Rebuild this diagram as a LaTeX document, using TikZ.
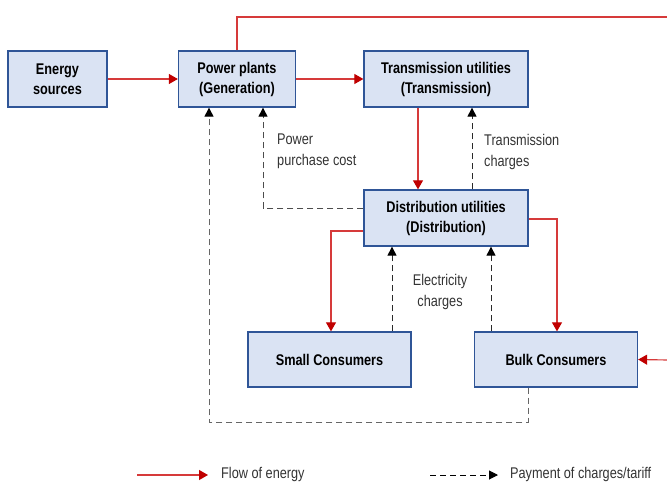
\documentclass[tikz,border=0pt]{standalone}
\usepackage{fontspec}
\setmainfont[FakeStretch=0.82]{Liberation Sans}
\usetikzlibrary{arrows.meta}
\definecolor{boxfill}{HTML}{DAE3F3}
\definecolor{boxline}{HTML}{2F5597}
\definecolor{flowred}{HTML}{C00000}
\definecolor{flowline}{HTML}{D63A3A}
\definecolor{paygray}{HTML}{2A2A2A}
\tikzset{
  ebox/.style={draw=boxline, fill=boxfill, line width=1.3pt, align=center,
    font=\fontsize{15.5}{20}\selectfont\bfseries, inner sep=0pt},
  flowbase/.style={draw=flowline, line width=1.15pt},
  flow/.style={flowbase, -{Triangle[length=9pt,width=10pt,color=flowred]}},
  pay/.style={draw=paygray, line width=1pt, dash pattern=on 6pt off 4pt,
    -{Triangle[length=9pt,width=9pt,color=black]}},
  lbl/.style={font=\fontsize{15.5}{21}\selectfont, align=left, inner sep=0pt, text=black!80},
}
\begin{document}
\begin{tikzpicture}[x=1pt,y=-1pt]
\useasboundingbox (0,0) rectangle (667,482);
% boxes
\node[ebox, minimum width=99pt, minimum height=56pt] (es) at (57.5,79) {Energy\\sources};
\node[ebox, minimum width=117pt, minimum height=56pt] (pp) at (237,79) {Power plants\\(Generation)};
\node[ebox, minimum width=164pt, minimum height=56pt] (tu) at (446,79) {Transmission utilities\\(Transmission)};
\node[ebox, minimum width=164pt, minimum height=56pt] (du) at (446,218) {Distribution utilities\\(Distribution)};
\node[ebox, minimum width=163pt, minimum height=55pt] (sc) at (329.5,359.5) {Small Consumers};
\node[ebox, minimum width=163pt, minimum height=55pt] (bc) at (556,359.5) {Bulk Consumers};
% off-page coordinates
\coordinate (topright) at (668,17);
\coordinate (rightin) at (668,360);
% energy flows
\draw[flow] (es.east) -- (pp.west);
\draw[flow] (pp.east) -- (tu.west);
\draw[flowbase] (pp.north) |- (topright);
\draw[flow] (rightin) -- (bc.east);
\draw[flow] (tu.south -| 418,0) -- (du.north -| 418,0);
\draw[flow] (du.west |- 0,231) -| (sc.north -| 331,0);
\draw[flow] (du.east |- 0,219) -| (bc.north -| 557,0);
% payments
\draw[pay] (du.north -| 472,0) -- (tu.south -| 472,0);
\draw[pay, draw=black!70] (du.west |- 0,208) -| (pp.south -| 263,0);
\draw[pay] (sc.north -| 392,0) -- (du.south -| 392,0);
\draw[pay] (bc.north -| 491,0) -- (du.south -| 491,0);
\draw[pay, draw=black!60] (bc.south -| 528,0) -- (528,422) -| (pp.south -| 209,0);
% labels
\node[lbl, anchor=west] (l1) at (277,151.5) {Power\\purchase cost};
\node[lbl, anchor=west] (l2) at (484,151.5) {Transmission\\charges};
\node[lbl, align=center] (l3) at (440,292) {Electricity\\charges};
% legend
\coordinate (lg1a) at (137,475);
\coordinate (lg1b) at (208,475);
\draw[flow] (lg1a) -- (lg1b);
\node[lbl, anchor=west] (lt1) at (221,474) {Flow of energy};
\coordinate (lg2a) at (430,475);
\coordinate (lg2b) at (498,475);
\draw[pay, draw=black] (lg2a) -- (lg2b);
\node[lbl, anchor=west] (lt2) at (510,474) {Payment of charges/tariff};
\end{tikzpicture}
\end{document}
